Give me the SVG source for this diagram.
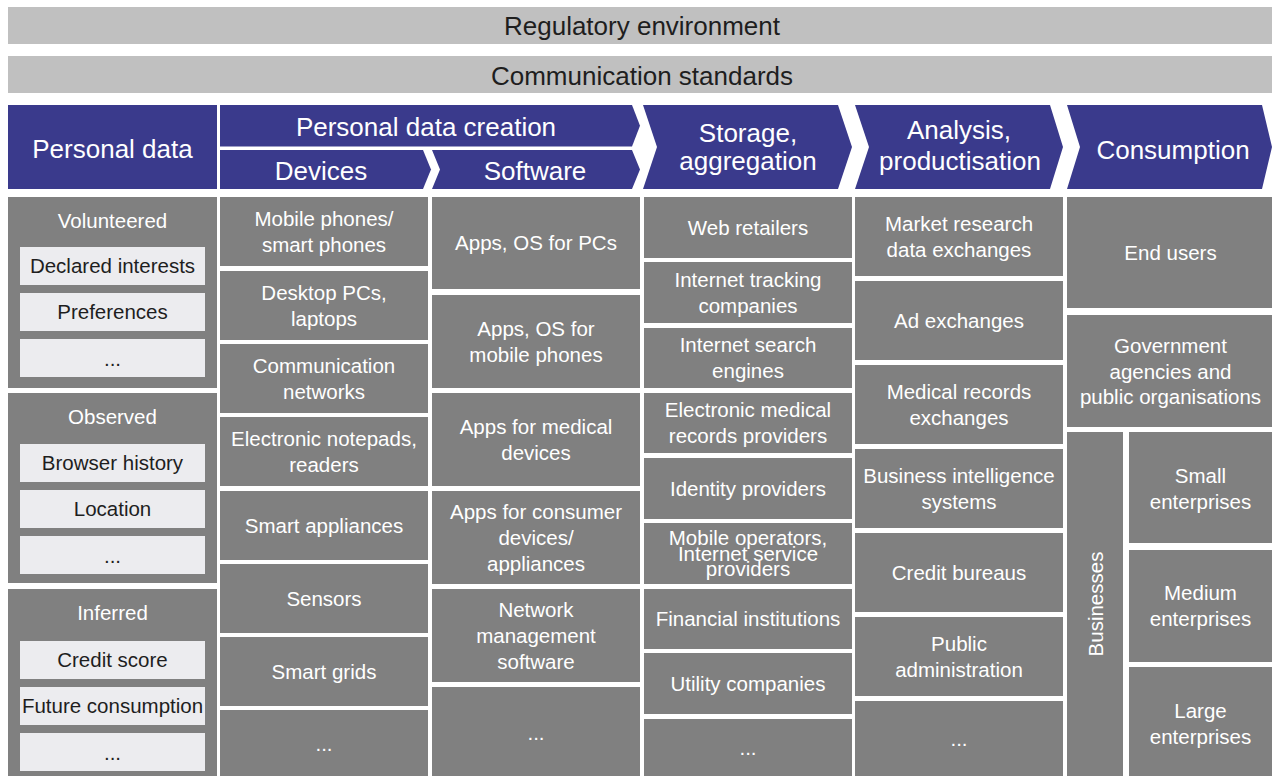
<svg xmlns="http://www.w3.org/2000/svg" width="1272" height="776" viewBox="0 0 1272 776">
<style>
  .bn{fill:#c0c0c0}
  .hd{fill:#3a3a8c}
  .gr{fill:#808080}
  .lt{fill:#ececef}
  text{font-family:"Liberation Sans",Arial,Helvetica,sans-serif;text-anchor:middle}
  .bt{font-size:26px;fill:#1e1e1e}
  .ht{font-size:26px;fill:#ffffff}
  .wt{font-size:20.5px;fill:#ffffff}
  .dt{font-size:20.5px;fill:#1e1e1e}
</style>
<rect width="1272" height="776" fill="#ffffff"/>

<g id="regulatory">
  <rect class="bn" x="8" y="7" width="1264" height="37"/>
  <text class="bt" x="642" y="34.5">Regulatory environment</text>
</g>
<g id="communication">
  <rect class="bn" x="8" y="56" width="1264" height="37"/>
  <text class="bt" x="642" y="84.5">Communication standards</text>
</g>

<g id="hdr-personal-data">
  <rect class="hd" x="8" y="105" width="209" height="84"/>
  <text class="ht" x="112.5" y="158">Personal data</text>
</g>
<g id="hdr-creation">
  <polygon class="hd" points="220,105 632,105 640,125.8 632,146.5 220,146.5"/>
  <text class="ht" x="426" y="135.5">Personal data creation</text>
</g>
<g id="hdr-devices">
  <polygon class="hd" points="220,150 423,150 431,169.5 423,189 220,189"/>
  <text class="ht" x="321" y="179.5">Devices</text>
</g>
<g id="hdr-software">
  <polygon class="hd" points="432,150 632,150 640,169.5 632,189 432,189 440,169.5"/>
  <text class="ht" x="535" y="179.5">Software</text>
</g>
<g id="hdr-storage">
  <polygon class="hd" points="643,105 838,105 852,147 838,189 643,189 657,147"/>
  <text class="ht" x="748" y="142">Storage,</text>
  <text class="ht" x="748" y="170">aggregation</text>
</g>
<g id="hdr-analysis">
  <polygon class="hd" points="855,105 1050,105 1063,147 1050,189 855,189 869,147"/>
  <text class="ht" x="959" y="139">Analysis,</text>
  <text class="ht" x="960" y="170">productisation</text>
</g>
<g id="hdr-consumption">
  <polygon class="hd" points="1067,105 1262,105 1272,147 1262,189 1067,189 1080,147"/>
  <text class="ht" x="1173" y="159">Consumption</text>
</g>

<!-- Personal data column -->
<g id="volunteered">
  <rect class="gr" x="8" y="197" width="209" height="191"/>
  <text class="wt" x="112.5" y="228">Volunteered</text>
  <rect class="lt" x="20" y="247" width="185" height="38"/>
  <text class="dt" x="112.5" y="273">Declared interests</text>
  <rect class="lt" x="20" y="293" width="185" height="38"/>
  <text class="dt" x="112.5" y="319">Preferences</text>
  <rect class="lt" x="20" y="339" width="185" height="38"/>
  <text class="dt" x="112.5" y="366">...</text>
</g>
<g id="observed">
  <rect class="gr" x="8" y="393" width="209" height="190"/>
  <text class="wt" x="112.5" y="424">Observed</text>
  <rect class="lt" x="20" y="444" width="185" height="38"/>
  <text class="dt" x="112.5" y="470">Browser history</text>
  <rect class="lt" x="20" y="490" width="185" height="38"/>
  <text class="dt" x="112.5" y="516">Location</text>
  <rect class="lt" x="20" y="536" width="185" height="38"/>
  <text class="dt" x="112.5" y="563">...</text>
</g>
<g id="inferred">
  <rect class="gr" x="8" y="589" width="209" height="187"/>
  <text class="wt" x="112.5" y="620">Inferred</text>
  <rect class="lt" x="20" y="641" width="185" height="38"/>
  <text class="dt" x="112.5" y="667">Credit score</text>
  <rect class="lt" x="20" y="687" width="185" height="38"/>
  <text class="dt" x="112.5" y="713">Future consumption</text>
  <rect class="lt" x="20" y="733" width="185" height="38"/>
  <text class="dt" x="112.5" y="760">...</text>
</g>

<!-- Devices column -->
<g id="dev-mobile">
  <rect class="gr" x="220" y="197" width="208" height="69"/>
  <text class="wt" x="324" y="226">Mobile phones/</text>
  <text class="wt" x="324" y="252">smart phones</text>
</g>
<g id="dev-desktop">
  <rect class="gr" x="220" y="271" width="208" height="69"/>
  <text class="wt" x="324" y="299.5">Desktop PCs,</text>
  <text class="wt" x="324" y="325.5">laptops</text>
</g>
<g id="dev-comm">
  <rect class="gr" x="220" y="344" width="208" height="69"/>
  <text class="wt" x="324" y="372.5">Communication</text>
  <text class="wt" x="324" y="398.5">networks</text>
</g>
<g id="dev-notepads">
  <rect class="gr" x="220" y="417" width="208" height="69"/>
  <text class="wt" x="324" y="445.5">Electronic notepads,</text>
  <text class="wt" x="324" y="471.5">readers</text>
</g>
<g id="dev-appliances">
  <rect class="gr" x="220" y="491" width="208" height="69"/>
  <text class="wt" x="324" y="532.5">Smart appliances</text>
</g>
<g id="dev-sensors">
  <rect class="gr" x="220" y="564" width="208" height="69"/>
  <text class="wt" x="324" y="605.5">Sensors</text>
</g>
<g id="dev-grids">
  <rect class="gr" x="220" y="637" width="208" height="69"/>
  <text class="wt" x="324" y="678.5">Smart grids</text>
</g>
<g id="dev-more">
  <rect class="gr" x="220" y="710" width="208" height="66"/>
  <text class="wt" x="324" y="751">...</text>
</g>

<!-- Software column -->
<g id="sw-pcs">
  <rect class="gr" x="432" y="197" width="208" height="92"/>
  <text class="wt" x="536" y="250">Apps, OS for PCs</text>
</g>
<g id="sw-mobile">
  <rect class="gr" x="432" y="295" width="208" height="93"/>
  <text class="wt" x="536" y="335.5">Apps, OS for</text>
  <text class="wt" x="536" y="361.5">mobile phones</text>
</g>
<g id="sw-medical">
  <rect class="gr" x="432" y="393" width="208" height="93"/>
  <text class="wt" x="536" y="433.5">Apps for medical</text>
  <text class="wt" x="536" y="459.5">devices</text>
</g>
<g id="sw-consumer">
  <rect class="gr" x="432" y="491" width="208" height="93"/>
  <text class="wt" x="536" y="518.5">Apps for consumer</text>
  <text class="wt" x="536" y="544.5">devices/</text>
  <text class="wt" x="536" y="570.5">appliances</text>
</g>
<g id="sw-network">
  <rect class="gr" x="432" y="589" width="208" height="93"/>
  <text class="wt" x="536" y="616.5">Network</text>
  <text class="wt" x="536" y="642.5">management</text>
  <text class="wt" x="536" y="668.5">software</text>
</g>
<g id="sw-more">
  <rect class="gr" x="432" y="687" width="208" height="89"/>
  <text class="wt" x="536" y="740">...</text>
</g>

<!-- Storage column -->
<g id="st-web">
  <rect class="gr" x="644" y="197" width="208" height="61"/>
  <text class="wt" x="748" y="234.5">Web retailers</text>
</g>
<g id="st-tracking">
  <rect class="gr" x="644" y="262" width="208" height="61"/>
  <text class="wt" x="748" y="286.5">Internet tracking</text>
  <text class="wt" x="748" y="312.5">companies</text>
</g>
<g id="st-search">
  <rect class="gr" x="644" y="328" width="208" height="60"/>
  <text class="wt" x="748" y="352">Internet search</text>
  <text class="wt" x="748" y="378">engines</text>
</g>
<g id="st-emr">
  <rect class="gr" x="644" y="393" width="208" height="60"/>
  <text class="wt" x="748" y="417">Electronic medical</text>
  <text class="wt" x="748" y="443">records providers</text>
</g>
<g id="st-identity">
  <rect class="gr" x="644" y="458" width="208" height="61"/>
  <text class="wt" x="748" y="495.5">Identity providers</text>
</g>
<g id="st-mobile">
  <rect class="gr" x="644" y="523" width="208" height="61"/>
  <text class="wt" x="748" y="545">Mobile operators,</text>
  <text class="wt" x="748" y="560.5">Internet service</text>
  <text class="wt" x="748" y="576">providers</text>
</g>
<g id="st-financial">
  <rect class="gr" x="644" y="589" width="208" height="60"/>
  <text class="wt" x="748" y="626">Financial institutions</text>
</g>
<g id="st-utility">
  <rect class="gr" x="644" y="653" width="208" height="61"/>
  <text class="wt" x="748" y="690.5">Utility companies</text>
</g>
<g id="st-more">
  <rect class="gr" x="644" y="719" width="208" height="57"/>
  <text class="wt" x="748" y="755">...</text>
</g>

<!-- Analysis column -->
<g id="an-market">
  <rect class="gr" x="855" y="197" width="208" height="79"/>
  <text class="wt" x="959" y="230.5">Market research</text>
  <text class="wt" x="959" y="256.5">data exchanges</text>
</g>
<g id="an-ad">
  <rect class="gr" x="855" y="281" width="208" height="79"/>
  <text class="wt" x="959" y="327.5">Ad exchanges</text>
</g>
<g id="an-medical">
  <rect class="gr" x="855" y="365" width="208" height="79"/>
  <text class="wt" x="959" y="398.5">Medical records</text>
  <text class="wt" x="959" y="424.5">exchanges</text>
</g>
<g id="an-bi">
  <rect class="gr" x="855" y="449" width="208" height="79"/>
  <text class="wt" x="959" y="482.5">Business intelligence</text>
  <text class="wt" x="959" y="508.5">systems</text>
</g>
<g id="an-credit">
  <rect class="gr" x="855" y="533" width="208" height="79"/>
  <text class="wt" x="959" y="579.5">Credit bureaus</text>
</g>
<g id="an-public">
  <rect class="gr" x="855" y="617" width="208" height="79"/>
  <text class="wt" x="959" y="650.5">Public</text>
  <text class="wt" x="959" y="676.5">administration</text>
</g>
<g id="an-more">
  <rect class="gr" x="855" y="701" width="208" height="75"/>
  <text class="wt" x="959" y="746">...</text>
</g>

<!-- Consumption column -->
<g id="co-end">
  <rect class="gr" x="1067" y="197" width="205" height="111"/>
  <text class="wt" x="1170.5" y="259.5">End users</text>
</g>
<g id="co-gov">
  <rect class="gr" x="1067" y="315" width="205" height="112"/>
  <text class="wt" x="1170.5" y="353">Government</text>
  <text class="wt" x="1170.5" y="378.5">agencies and</text>
  <text class="wt" x="1170.5" y="404">public organisations</text>
</g>
<g id="co-businesses">
  <rect class="gr" x="1067" y="432" width="56" height="344"/>
  <text class="wt" transform="translate(1095,604) rotate(-90)" x="0" y="7.5">Businesses</text>
</g>
<g id="co-small">
  <rect class="gr" x="1129" y="432" width="143" height="111"/>
  <text class="wt" x="1200.5" y="483">Small</text>
  <text class="wt" x="1200.5" y="509">enterprises</text>
</g>
<g id="co-medium">
  <rect class="gr" x="1129" y="550" width="143" height="112"/>
  <text class="wt" x="1200.5" y="600">Medium</text>
  <text class="wt" x="1200.5" y="626">enterprises</text>
</g>
<g id="co-large">
  <rect class="gr" x="1129" y="667" width="143" height="109"/>
  <text class="wt" x="1200.5" y="717.5">Large</text>
  <text class="wt" x="1200.5" y="743.5">enterprises</text>
</g>

<g id="connectors"></g>
</svg>
